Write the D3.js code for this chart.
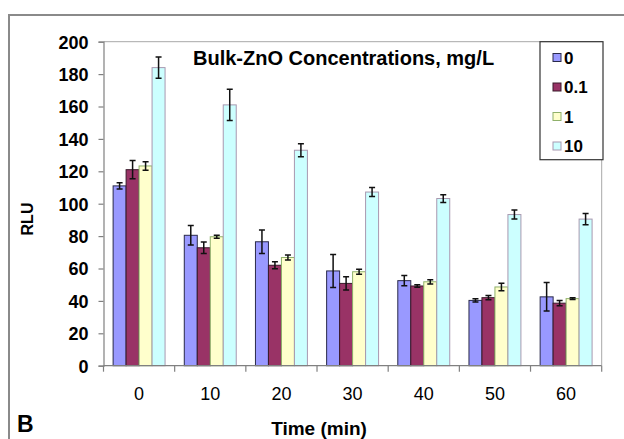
<!DOCTYPE html>
<html>
<head>
<meta charset="utf-8">
<script src="https://cdn.jsdelivr.net/npm/d3@7"></script>
<style>
  html, body { margin: 0; padding: 0; background: #fff; }
  svg { display: block; font-family: "Liberation Sans", Arial, sans-serif; }
</style>
</head>
<body>
<svg id="chart" width="624" height="439"></svg>
<script>
// ---- data ----
const times = ["0", "10", "20", "30", "40", "50", "60"];
const concentrations = ["0", "0.1", "1", "10"];
const rlu0   = [111, 80.5, 76.5, 58.5, 52.5, 40.3, 42.5];
const err0   = [2, 6, 7.2, 10.2, 3.2, 1, 8.8];
const rlu01  = [121, 72.8, 62, 50.8, 49.2, 42, 38.6];
const err01  = [5.6, 3.6, 2.2, 4.1, 0.7, 1.3, 1.6];
const rlu1   = [123.3, 79.6, 66.8, 58, 51.8, 48.6, 41.4];
const err1   = [2.6, 1, 1.5, 1.6, 1.3, 2.3, 0.5];
const rlu10  = [184, 161, 133, 107.2, 103.2, 93.3, 90.5];
const err10  = [6.5, 9.6, 4, 2.8, 2.4, 2.8, 3.5];
const yTicks = [0, 20, 40, 60, 80, 100, 120, 140, 160, 180, 200];
const seriesValues = [rlu0, rlu01, rlu1, rlu10];
const seriesErrors = [err0, err01, err1, err10];
const fills   = ["#9999FF", "#993366", "#FFFFCC", "#CCFFFF"];
const strokes = ["#2a2a4a", "#3a1a2a", "#8fb06a", "#a898b0"];

const svg = d3.select("#chart");
svg.append("rect").attr("width", 624).attr("height", 439).attr("fill", "#fff");

// outer frame
svg.append("rect").attr("x", 9).attr("y", 15).attr("width", 640).attr("height", 500)
  .attr("fill", "none").attr("stroke", "#8a8a8a").attr("stroke-width", 2);

const L = 103.5, R = 601.7, T = 41.7, B = 365.7;

const x = d3.scaleBand().domain(times).range([L, R]).padding(0);
const xs = d3.scaleBand().domain(concentrations).range([0, x.bandwidth()])
  .paddingInner(0).paddingOuter(0.74);
const y = d3.scaleLinear().domain([0, 200]).range([B, T]);

// plot border (top & right)
svg.append("path").attr("d", `M${L},${T}H${R}V${B}`)
  .attr("fill", "none").attr("stroke", "#a8a8a8").attr("stroke-width", 1);

// bars
const data = [];
times.forEach((t, i) => concentrations.forEach((c, j) => {
  data.push({ t, c, j, v: seriesValues[j][i], e: seriesErrors[j][i] });
}));

svg.append("g").selectAll("rect").data(data).join("rect")
  .attr("x", d => x(d.t) + xs(d.c))
  .attr("y", d => y(d.v))
  .attr("width", xs.bandwidth())
  .attr("height", d => y(0) - y(d.v))
  .attr("fill", d => fills[d.j])
  .attr("stroke", d => strokes[d.j])
  .attr("stroke-width", 1);

// error bars
const eg = svg.append("g").attr("stroke", "#111").attr("stroke-width", 1.5).attr("fill", "none");
eg.selectAll("path").data(data).join("path")
  .attr("d", d => {
    const cx = x(d.t) + xs(d.c) + xs.bandwidth() / 2;
    const y1 = y(d.v + d.e), y2 = y(d.v - d.e);
    return `M${cx - 3},${y1}H${cx + 3}M${cx},${y1}V${y2}M${cx - 3},${y2}H${cx + 3}`;
  });

// y axis
const yAxis = d3.axisLeft(y).tickValues(yTicks).tickSize(5).tickPadding(10);
const gy = svg.append("g").attr("transform", `translate(${L},0)`).call(yAxis);
gy.select(".domain").attr("stroke", "#808080").attr("stroke-width", 1.2);
gy.selectAll(".tick line").attr("stroke", "#808080").attr("stroke-width", 1.2);
gy.selectAll(".tick text").attr("font-size", 18).attr("font-weight", "bold")
  .attr("fill", "#000").attr("font-family", "Liberation Sans, Arial, sans-serif")
  .attr("dy", "0.35em");

// x axis: ticks at band boundaries
const gx = svg.append("g").attr("transform", `translate(0,${B})`);
gx.append("line").attr("x1", L).attr("x2", R).attr("stroke", "#808080").attr("stroke-width", 1.2);
const bounds = times.map(t => x(t)).concat([R]);
gx.selectAll("line.tk").data(bounds).join("line").attr("class", "tk")
  .attr("x1", d => d).attr("x2", d => d).attr("y1", 0).attr("y2", 6)
  .attr("stroke", "#808080").attr("stroke-width", 1.2);
gx.selectAll("text").data(times).join("text")
  .attr("x", d => x(d) + x.bandwidth() / 2).attr("y", 34)
  .attr("text-anchor", "middle").attr("font-size", 18).attr("fill", "#000")
  .text(d => d);

// title
svg.append("text").attr("x", 193).attr("y", 65).attr("font-size", 20)
  .attr("font-weight", "bold").attr("fill", "#000")
  .text("Bulk-ZnO Concentrations, mg/L");

// legend
const lg = svg.append("g");
lg.append("rect").attr("x", 540).attr("y", 41.7).attr("width", 63).attr("height", 118)
  .attr("fill", "#fff").attr("stroke", "#333").attr("stroke-width", 1.2);
const li = lg.selectAll("g.it").data(concentrations).join("g").attr("class", "it")
  .attr("transform", (d, i) => `translate(553,${57.5 + i * 29.5})`);
li.append("rect").attr("x", 0).attr("y", -4).attr("width", 8).attr("height", 8)
  .attr("fill", (d, i) => fills[i]).attr("stroke", (d, i) => strokes[i]).attr("stroke-width", 1);
li.append("text").attr("x", 11).attr("y", 0).attr("dy", "0.36em")
  .attr("font-size", 17).attr("font-weight", "bold").attr("fill", "#000")
  .text(d => d);

// axis titles
svg.append("text").attr("transform", "translate(33,219) rotate(-90)")
  .attr("text-anchor", "middle").attr("font-size", 16).attr("font-weight", "bold")
  .attr("fill", "#000").text("RLU");
svg.append("text").attr("x", 319).attr("y", 435).attr("text-anchor", "middle")
  .attr("font-size", 19).attr("font-weight", "bold").attr("fill", "#000")
  .text("Time (min)");
svg.append("text").attr("x", 17).attr("y", 432).attr("font-size", 23)
  .attr("font-weight", "bold").attr("fill", "#000").text("B");
</script>
</body>
</html>
